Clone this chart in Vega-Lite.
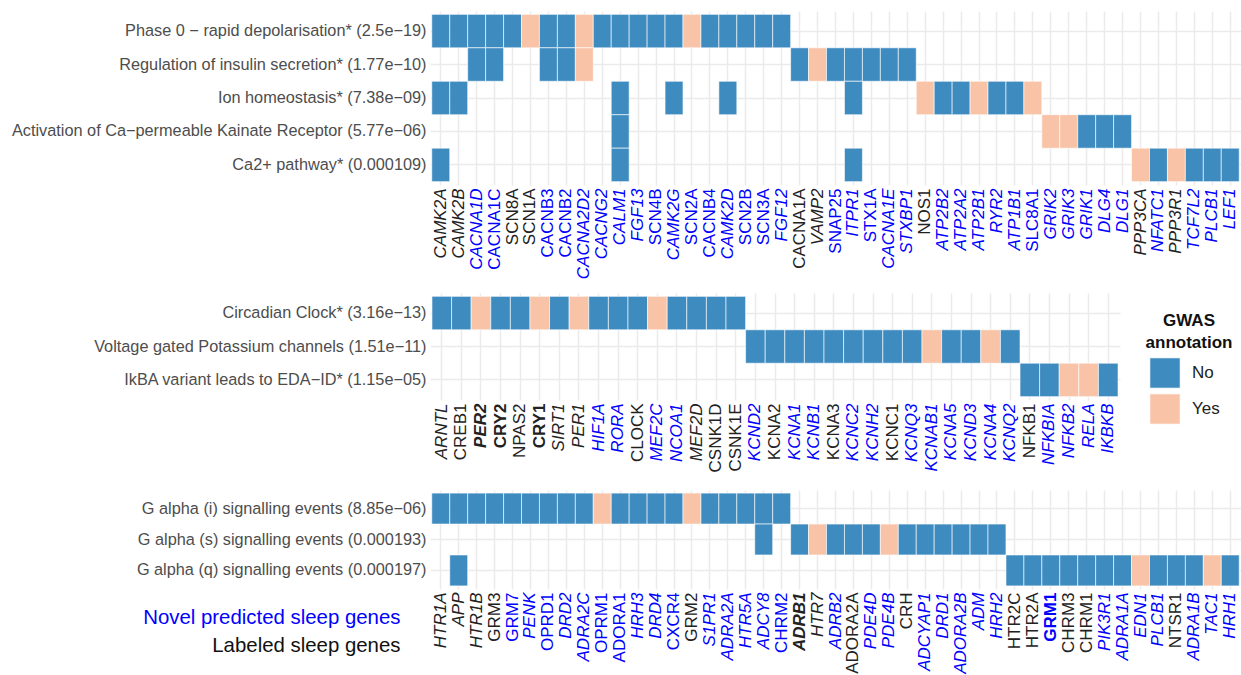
{
  "$schema": "https://vega.github.io/schema/vega-lite/v6.json",
  "padding": {"top": 11, "left": 0, "right": 0, "bottom": 0},
  "background": "white",
  "spacing": 0,
  "config": {
    "view": {"stroke": null},
    "font": "Liberation Sans",
    "axis": {"ticks": false, "domain": false, "grid": true, "gridColor": "#EBEBEB", "gridWidth": 1.5, "bandPosition": 0.5, "labelOverlap": false, "labelLimit": 0, "zindex": 0}
  },
  "datasets": {
    "p1": [
      {"pathway": "Phase 0 − rapid depolarisation* (2.5e−19)", "gene": "CAMK2A", "gwas": "No"},
      {"pathway": "Phase 0 − rapid depolarisation* (2.5e−19)", "gene": "CAMK2B", "gwas": "No"},
      {"pathway": "Phase 0 − rapid depolarisation* (2.5e−19)", "gene": "CACNA1D", "gwas": "No"},
      {"pathway": "Phase 0 − rapid depolarisation* (2.5e−19)", "gene": "CACNA1C", "gwas": "No"},
      {"pathway": "Phase 0 − rapid depolarisation* (2.5e−19)", "gene": "SCN8A", "gwas": "No"},
      {"pathway": "Phase 0 − rapid depolarisation* (2.5e−19)", "gene": "SCN1A", "gwas": "Yes"},
      {"pathway": "Phase 0 − rapid depolarisation* (2.5e−19)", "gene": "CACNB3", "gwas": "No"},
      {"pathway": "Phase 0 − rapid depolarisation* (2.5e−19)", "gene": "CACNB2", "gwas": "No"},
      {"pathway": "Phase 0 − rapid depolarisation* (2.5e−19)", "gene": "CACNA2D2", "gwas": "Yes"},
      {"pathway": "Phase 0 − rapid depolarisation* (2.5e−19)", "gene": "CACNG2", "gwas": "No"},
      {"pathway": "Phase 0 − rapid depolarisation* (2.5e−19)", "gene": "CALM1", "gwas": "No"},
      {"pathway": "Phase 0 − rapid depolarisation* (2.5e−19)", "gene": "FGF13", "gwas": "No"},
      {"pathway": "Phase 0 − rapid depolarisation* (2.5e−19)", "gene": "SCN4B", "gwas": "No"},
      {"pathway": "Phase 0 − rapid depolarisation* (2.5e−19)", "gene": "CAMK2G", "gwas": "No"},
      {"pathway": "Phase 0 − rapid depolarisation* (2.5e−19)", "gene": "SCN2A", "gwas": "Yes"},
      {"pathway": "Phase 0 − rapid depolarisation* (2.5e−19)", "gene": "CACNB4", "gwas": "No"},
      {"pathway": "Phase 0 − rapid depolarisation* (2.5e−19)", "gene": "CAMK2D", "gwas": "No"},
      {"pathway": "Phase 0 − rapid depolarisation* (2.5e−19)", "gene": "SCN2B", "gwas": "No"},
      {"pathway": "Phase 0 − rapid depolarisation* (2.5e−19)", "gene": "SCN3A", "gwas": "No"},
      {"pathway": "Phase 0 − rapid depolarisation* (2.5e−19)", "gene": "FGF12", "gwas": "No"},
      {"pathway": "Regulation of insulin secretion* (1.77e−10)", "gene": "CACNA1D", "gwas": "No"},
      {"pathway": "Regulation of insulin secretion* (1.77e−10)", "gene": "CACNA1C", "gwas": "No"},
      {"pathway": "Regulation of insulin secretion* (1.77e−10)", "gene": "CACNB3", "gwas": "No"},
      {"pathway": "Regulation of insulin secretion* (1.77e−10)", "gene": "CACNB2", "gwas": "No"},
      {"pathway": "Regulation of insulin secretion* (1.77e−10)", "gene": "CACNA2D2", "gwas": "Yes"},
      {"pathway": "Regulation of insulin secretion* (1.77e−10)", "gene": "CACNA1A", "gwas": "No"},
      {"pathway": "Regulation of insulin secretion* (1.77e−10)", "gene": "VAMP2", "gwas": "Yes"},
      {"pathway": "Regulation of insulin secretion* (1.77e−10)", "gene": "SNAP25", "gwas": "No"},
      {"pathway": "Regulation of insulin secretion* (1.77e−10)", "gene": "ITPR1", "gwas": "No"},
      {"pathway": "Regulation of insulin secretion* (1.77e−10)", "gene": "STX1A", "gwas": "No"},
      {"pathway": "Regulation of insulin secretion* (1.77e−10)", "gene": "CACNA1E", "gwas": "No"},
      {"pathway": "Regulation of insulin secretion* (1.77e−10)", "gene": "STXBP1", "gwas": "No"},
      {"pathway": "Ion homeostasis* (7.38e−09)", "gene": "CAMK2A", "gwas": "No"},
      {"pathway": "Ion homeostasis* (7.38e−09)", "gene": "CAMK2B", "gwas": "No"},
      {"pathway": "Ion homeostasis* (7.38e−09)", "gene": "CALM1", "gwas": "No"},
      {"pathway": "Ion homeostasis* (7.38e−09)", "gene": "CAMK2G", "gwas": "No"},
      {"pathway": "Ion homeostasis* (7.38e−09)", "gene": "CAMK2D", "gwas": "No"},
      {"pathway": "Ion homeostasis* (7.38e−09)", "gene": "ITPR1", "gwas": "No"},
      {"pathway": "Ion homeostasis* (7.38e−09)", "gene": "NOS1", "gwas": "Yes"},
      {"pathway": "Ion homeostasis* (7.38e−09)", "gene": "ATP2B2", "gwas": "No"},
      {"pathway": "Ion homeostasis* (7.38e−09)", "gene": "ATP2A2", "gwas": "No"},
      {"pathway": "Ion homeostasis* (7.38e−09)", "gene": "ATP2B1", "gwas": "Yes"},
      {"pathway": "Ion homeostasis* (7.38e−09)", "gene": "RYR2", "gwas": "No"},
      {"pathway": "Ion homeostasis* (7.38e−09)", "gene": "ATP1B1", "gwas": "No"},
      {"pathway": "Ion homeostasis* (7.38e−09)", "gene": "SLC8A1", "gwas": "Yes"},
      {"pathway": "Activation of Ca−permeable Kainate Receptor (5.77e−06)", "gene": "CALM1", "gwas": "No"},
      {"pathway": "Activation of Ca−permeable Kainate Receptor (5.77e−06)", "gene": "GRIK2", "gwas": "Yes"},
      {"pathway": "Activation of Ca−permeable Kainate Receptor (5.77e−06)", "gene": "GRIK3", "gwas": "Yes"},
      {"pathway": "Activation of Ca−permeable Kainate Receptor (5.77e−06)", "gene": "GRIK1", "gwas": "No"},
      {"pathway": "Activation of Ca−permeable Kainate Receptor (5.77e−06)", "gene": "DLG4", "gwas": "No"},
      {"pathway": "Activation of Ca−permeable Kainate Receptor (5.77e−06)", "gene": "DLG1", "gwas": "No"},
      {"pathway": "Ca2+ pathway* (0.000109)", "gene": "CAMK2A", "gwas": "No"},
      {"pathway": "Ca2+ pathway* (0.000109)", "gene": "CALM1", "gwas": "No"},
      {"pathway": "Ca2+ pathway* (0.000109)", "gene": "ITPR1", "gwas": "No"},
      {"pathway": "Ca2+ pathway* (0.000109)", "gene": "PPP3CA", "gwas": "Yes"},
      {"pathway": "Ca2+ pathway* (0.000109)", "gene": "NFATC1", "gwas": "No"},
      {"pathway": "Ca2+ pathway* (0.000109)", "gene": "PPP3R1", "gwas": "Yes"},
      {"pathway": "Ca2+ pathway* (0.000109)", "gene": "TCF7L2", "gwas": "No"},
      {"pathway": "Ca2+ pathway* (0.000109)", "gene": "PLCB1", "gwas": "No"},
      {"pathway": "Ca2+ pathway* (0.000109)", "gene": "LEF1", "gwas": "No"}
    ],
    "p2": [
      {"pathway": "Circadian Clock* (3.16e−13)", "gene": "ARNTL", "gwas": "No"},
      {"pathway": "Circadian Clock* (3.16e−13)", "gene": "CREB1", "gwas": "No"},
      {"pathway": "Circadian Clock* (3.16e−13)", "gene": "PER2", "gwas": "Yes"},
      {"pathway": "Circadian Clock* (3.16e−13)", "gene": "CRY2", "gwas": "No"},
      {"pathway": "Circadian Clock* (3.16e−13)", "gene": "NPAS2", "gwas": "No"},
      {"pathway": "Circadian Clock* (3.16e−13)", "gene": "CRY1", "gwas": "Yes"},
      {"pathway": "Circadian Clock* (3.16e−13)", "gene": "SIRT1", "gwas": "No"},
      {"pathway": "Circadian Clock* (3.16e−13)", "gene": "PER1", "gwas": "Yes"},
      {"pathway": "Circadian Clock* (3.16e−13)", "gene": "HIF1A", "gwas": "No"},
      {"pathway": "Circadian Clock* (3.16e−13)", "gene": "RORA", "gwas": "No"},
      {"pathway": "Circadian Clock* (3.16e−13)", "gene": "CLOCK", "gwas": "No"},
      {"pathway": "Circadian Clock* (3.16e−13)", "gene": "MEF2C", "gwas": "Yes"},
      {"pathway": "Circadian Clock* (3.16e−13)", "gene": "NCOA1", "gwas": "No"},
      {"pathway": "Circadian Clock* (3.16e−13)", "gene": "MEF2D", "gwas": "No"},
      {"pathway": "Circadian Clock* (3.16e−13)", "gene": "CSNK1D", "gwas": "No"},
      {"pathway": "Circadian Clock* (3.16e−13)", "gene": "CSNK1E", "gwas": "No"},
      {"pathway": "Voltage gated Potassium channels (1.51e−11)", "gene": "KCND2", "gwas": "No"},
      {"pathway": "Voltage gated Potassium channels (1.51e−11)", "gene": "KCNA2", "gwas": "No"},
      {"pathway": "Voltage gated Potassium channels (1.51e−11)", "gene": "KCNA1", "gwas": "No"},
      {"pathway": "Voltage gated Potassium channels (1.51e−11)", "gene": "KCNB1", "gwas": "No"},
      {"pathway": "Voltage gated Potassium channels (1.51e−11)", "gene": "KCNA3", "gwas": "No"},
      {"pathway": "Voltage gated Potassium channels (1.51e−11)", "gene": "KCNC2", "gwas": "No"},
      {"pathway": "Voltage gated Potassium channels (1.51e−11)", "gene": "KCNH2", "gwas": "No"},
      {"pathway": "Voltage gated Potassium channels (1.51e−11)", "gene": "KCNC1", "gwas": "No"},
      {"pathway": "Voltage gated Potassium channels (1.51e−11)", "gene": "KCNQ3", "gwas": "No"},
      {"pathway": "Voltage gated Potassium channels (1.51e−11)", "gene": "KCNAB1", "gwas": "Yes"},
      {"pathway": "Voltage gated Potassium channels (1.51e−11)", "gene": "KCNA5", "gwas": "No"},
      {"pathway": "Voltage gated Potassium channels (1.51e−11)", "gene": "KCND3", "gwas": "No"},
      {"pathway": "Voltage gated Potassium channels (1.51e−11)", "gene": "KCNA4", "gwas": "Yes"},
      {"pathway": "Voltage gated Potassium channels (1.51e−11)", "gene": "KCNQ2", "gwas": "No"},
      {"pathway": "IkBA variant leads to EDA−ID* (1.15e−05)", "gene": "NFKB1", "gwas": "No"},
      {"pathway": "IkBA variant leads to EDA−ID* (1.15e−05)", "gene": "NFKBIA", "gwas": "No"},
      {"pathway": "IkBA variant leads to EDA−ID* (1.15e−05)", "gene": "NFKB2", "gwas": "Yes"},
      {"pathway": "IkBA variant leads to EDA−ID* (1.15e−05)", "gene": "RELA", "gwas": "Yes"},
      {"pathway": "IkBA variant leads to EDA−ID* (1.15e−05)", "gene": "IKBKB", "gwas": "No"}
    ],
    "p3": [
      {"pathway": "G alpha (i) signalling events (8.85e−06)", "gene": "HTR1A", "gwas": "No"},
      {"pathway": "G alpha (i) signalling events (8.85e−06)", "gene": "APP", "gwas": "No"},
      {"pathway": "G alpha (i) signalling events (8.85e−06)", "gene": "HTR1B", "gwas": "No"},
      {"pathway": "G alpha (i) signalling events (8.85e−06)", "gene": "GRM3", "gwas": "No"},
      {"pathway": "G alpha (i) signalling events (8.85e−06)", "gene": "GRM7", "gwas": "No"},
      {"pathway": "G alpha (i) signalling events (8.85e−06)", "gene": "PENK", "gwas": "No"},
      {"pathway": "G alpha (i) signalling events (8.85e−06)", "gene": "OPRD1", "gwas": "No"},
      {"pathway": "G alpha (i) signalling events (8.85e−06)", "gene": "DRD2", "gwas": "No"},
      {"pathway": "G alpha (i) signalling events (8.85e−06)", "gene": "ADRA2C", "gwas": "No"},
      {"pathway": "G alpha (i) signalling events (8.85e−06)", "gene": "OPRM1", "gwas": "Yes"},
      {"pathway": "G alpha (i) signalling events (8.85e−06)", "gene": "ADORA1", "gwas": "No"},
      {"pathway": "G alpha (i) signalling events (8.85e−06)", "gene": "HRH3", "gwas": "No"},
      {"pathway": "G alpha (i) signalling events (8.85e−06)", "gene": "DRD4", "gwas": "No"},
      {"pathway": "G alpha (i) signalling events (8.85e−06)", "gene": "CXCR4", "gwas": "No"},
      {"pathway": "G alpha (i) signalling events (8.85e−06)", "gene": "GRM2", "gwas": "Yes"},
      {"pathway": "G alpha (i) signalling events (8.85e−06)", "gene": "S1PR1", "gwas": "No"},
      {"pathway": "G alpha (i) signalling events (8.85e−06)", "gene": "ADRA2A", "gwas": "No"},
      {"pathway": "G alpha (i) signalling events (8.85e−06)", "gene": "HTR5A", "gwas": "No"},
      {"pathway": "G alpha (i) signalling events (8.85e−06)", "gene": "ADCY8", "gwas": "No"},
      {"pathway": "G alpha (i) signalling events (8.85e−06)", "gene": "CHRM2", "gwas": "No"},
      {"pathway": "G alpha (s) signalling events (0.000193)", "gene": "ADCY8", "gwas": "No"},
      {"pathway": "G alpha (s) signalling events (0.000193)", "gene": "ADRB1", "gwas": "No"},
      {"pathway": "G alpha (s) signalling events (0.000193)", "gene": "HTR7", "gwas": "Yes"},
      {"pathway": "G alpha (s) signalling events (0.000193)", "gene": "ADRB2", "gwas": "No"},
      {"pathway": "G alpha (s) signalling events (0.000193)", "gene": "ADORA2A", "gwas": "No"},
      {"pathway": "G alpha (s) signalling events (0.000193)", "gene": "PDE4D", "gwas": "No"},
      {"pathway": "G alpha (s) signalling events (0.000193)", "gene": "PDE4B", "gwas": "Yes"},
      {"pathway": "G alpha (s) signalling events (0.000193)", "gene": "CRH", "gwas": "No"},
      {"pathway": "G alpha (s) signalling events (0.000193)", "gene": "ADCYAP1", "gwas": "No"},
      {"pathway": "G alpha (s) signalling events (0.000193)", "gene": "DRD1", "gwas": "No"},
      {"pathway": "G alpha (s) signalling events (0.000193)", "gene": "ADORA2B", "gwas": "No"},
      {"pathway": "G alpha (s) signalling events (0.000193)", "gene": "ADM", "gwas": "No"},
      {"pathway": "G alpha (s) signalling events (0.000193)", "gene": "HRH2", "gwas": "No"},
      {"pathway": "G alpha (q) signalling events (0.000197)", "gene": "APP", "gwas": "No"},
      {"pathway": "G alpha (q) signalling events (0.000197)", "gene": "HTR2C", "gwas": "No"},
      {"pathway": "G alpha (q) signalling events (0.000197)", "gene": "HTR2A", "gwas": "No"},
      {"pathway": "G alpha (q) signalling events (0.000197)", "gene": "GRM1", "gwas": "No"},
      {"pathway": "G alpha (q) signalling events (0.000197)", "gene": "CHRM3", "gwas": "No"},
      {"pathway": "G alpha (q) signalling events (0.000197)", "gene": "CHRM1", "gwas": "No"},
      {"pathway": "G alpha (q) signalling events (0.000197)", "gene": "PIK3R1", "gwas": "No"},
      {"pathway": "G alpha (q) signalling events (0.000197)", "gene": "ADRA1A", "gwas": "No"},
      {"pathway": "G alpha (q) signalling events (0.000197)", "gene": "EDN1", "gwas": "Yes"},
      {"pathway": "G alpha (q) signalling events (0.000197)", "gene": "PLCB1", "gwas": "No"},
      {"pathway": "G alpha (q) signalling events (0.000197)", "gene": "NTSR1", "gwas": "No"},
      {"pathway": "G alpha (q) signalling events (0.000197)", "gene": "ADRA1B", "gwas": "No"},
      {"pathway": "G alpha (q) signalling events (0.000197)", "gene": "TAC1", "gwas": "Yes"},
      {"pathway": "G alpha (q) signalling events (0.000197)", "gene": "HRH1", "gwas": "No"}
    ]
  },
  "resolve": {"scale": {"x": "independent", "y": "independent", "color": "independent"}, "legend": {"color": "independent"}},
  "vconcat": [
    {
      "width": 811, "height": 174,
      "data": {"name": "p1"},
      "mark": {"type": "rect", "stroke": "white", "strokeWidth": 0.6},
      "encoding": {
        "x": {"field": "gene", "type": "nominal", "sort": null, "scale": {"paddingInner": 0, "paddingOuter": 0.1},
          "axis": {"title": null, "labelAngle": -90, "labelFontSize": 17, "labelPadding": 3, "minExtent": 108, "maxExtent": 108,
            "labelColor": {"condition": {"test": "indexof(['CACNA1D','CACNA1C','CACNB3','CACNB2','CACNA2D2','CACNG2','CALM1','FGF13','SCN4B','CAMK2G','SCN2A','CACNB4','CAMK2D','SCN2B','SCN3A','FGF12','SNAP25','ITPR1','STX1A','CACNA1E','STXBP1','ATP2B2','ATP2A2','ATP2B1','RYR2','ATP1B1','SLC8A1','GRIK2','GRIK3','GRIK1','DLG4','DLG1','NFATC1','TCF7L2','PLCB1','LEF1'], datum.value) >= 0", "value": "#0000FF"}, "value": "#222222"},
            "labelFontStyle": {"condition": {"test": "indexof(['CAMK2A','CAMK2B','CACNA1D','CACNA2D2','CACNG2','CALM1','FGF13','CAMK2G','CAMK2D','FGF12','VAMP2','ITPR1','CACNA1E','STXBP1','ATP2B2','ATP2A2','ATP2B1','RYR2','ATP1B1','GRIK2','GRIK3','GRIK1','DLG4','DLG1','PPP3CA','NFATC1','PPP3R1','TCF7L2','PLCB1','LEF1'], datum.value) >= 0", "value": "italic"}, "value": "normal"}
          }},
        "y": {"field": "pathway", "type": "nominal", "sort": null, "scale": {"paddingInner": 0, "paddingOuter": 0.1},
          "axis": {"title": null, "labelFontSize": 16.3, "labelColor": "#4D4D4D", "labelPadding": 4, "minExtent": 430, "maxExtent": 430}},
        "color": {"field": "gwas", "type": "nominal", "scale": {"domain": ["No", "Yes"], "range": ["#3E8BC0", "#F8C3A7"]}, "legend": null}
      }
    },
    {
      "width": 690, "height": 107,
      "data": {"name": "p2"},
      "mark": {"type": "rect", "stroke": "white", "strokeWidth": 0.6},
      "encoding": {
        "x": {"field": "gene", "type": "nominal", "sort": null, "scale": {"paddingInner": 0, "paddingOuter": 0.1},
          "axis": {"title": null, "labelAngle": -90, "labelFontSize": 17, "labelPadding": 3, "minExtent": 90, "maxExtent": 90,
            "labelColor": {"condition": {"test": "indexof(['HIF1A','RORA','MEF2C','NCOA1','KCND2','KCNA1','KCNB1','KCNC2','KCNH2','KCNQ3','KCNAB1','KCNA5','KCND3','KCNA4','KCNQ2','NFKBIA','NFKB2','RELA','IKBKB'], datum.value) >= 0", "value": "#0000FF"}, "value": "#222222"},
            "labelFontStyle": {"condition": {"test": "indexof(['ARNTL','PER2','SIRT1','PER1','HIF1A','RORA','MEF2C','NCOA1','MEF2D','KCND2','KCNA1','KCNB1','KCNC2','KCNH2','KCNQ3','KCNAB1','KCNA5','KCND3','KCNA4','KCNQ2','NFKBIA','NFKB2','RELA','IKBKB'], datum.value) >= 0", "value": "italic"}, "value": "normal"},
            "labelFontWeight": {"condition": {"test": "indexof(['PER2','CRY2','CRY1'], datum.value) >= 0", "value": "bold"}, "value": "normal"}
          }},
        "y": {"field": "pathway", "type": "nominal", "sort": null, "scale": {"paddingInner": 0, "paddingOuter": 0.1},
          "axis": {"title": null, "labelFontSize": 16.3, "labelColor": "#4D4D4D", "labelPadding": 4, "minExtent": 430, "maxExtent": 430}},
        "color": {"field": "gwas", "type": "nominal", "scale": {"domain": ["No", "Yes"], "range": ["#3E8BC0", "#F8C3A7"]},
          "legend": {"title": ["GWAS", "annotation"], "orient": "none", "legendX": 716, "legendY": 20, "padding": 0,
            "titleFontSize": 17, "titleFontWeight": "bold", "titleColor": "#111111", "titleAnchor": "middle", "titleAlign": "center", "titleLineHeight": 22, "titlePadding": 5,
            "symbolType": "square", "symbolSize": 930, "symbolStrokeColor": "white", "symbolStrokeWidth": 1, "symbolOpacity": 1, "symbolOffset": -9,
            "labelFontSize": 17, "labelColor": "#222222", "labelOffset": 11, "rowPadding": 0}}
      }
    },
    {
      "width": 811, "height": 99,
      "data": {"name": "p3"},
      "mark": {"type": "rect", "stroke": "white", "strokeWidth": 0.6},
      "encoding": {
        "x": {"field": "gene", "type": "nominal", "sort": null, "scale": {"paddingInner": 0, "paddingOuter": 0.1},
          "axis": {"title": "Novel predicted sleep genes", "titleColor": "#0000FF", "titleFontSize": 20.4, "titleFontWeight": "normal", "titleAngle": 0, "titleAlign": "right", "titleBaseline": "middle", "titleX": -30, "titleY": 28,
            "labelAngle": -90, "labelFontSize": 17, "labelPadding": 3, "minExtent": 86, "maxExtent": 86,
            "labelColor": {"condition": {"test": "indexof(['GRM7','PENK','OPRD1','DRD2','ADRA2C','OPRM1','ADORA1','HRH3','DRD4','CXCR4','S1PR1','ADRA2A','HTR5A','ADCY8','CHRM2','ADRB2','PDE4D','PDE4B','ADCYAP1','DRD1','ADORA2B','ADM','HRH2','GRM1','PIK3R1','ADRA1A','EDN1','PLCB1','ADRA1B','TAC1','HRH1'], datum.value) >= 0", "value": "#0000FF"}, "value": "#222222"},
            "labelFontStyle": {"condition": {"test": "indexof(['HTR1A','APP','HTR1B','PENK','DRD2','ADRA2C','HRH3','DRD4','S1PR1','ADRA2A','HTR5A','ADCY8','ADRB1','HTR7','ADRB2','PDE4D','PDE4B','ADCYAP1','DRD1','ADORA2B','ADM','HRH2','PIK3R1','ADRA1A','EDN1','PLCB1','ADRA1B','TAC1','HRH1'], datum.value) >= 0", "value": "italic"}, "value": "normal"},
            "labelFontWeight": {"condition": {"test": "indexof(['ADRB1','GRM1'], datum.value) >= 0", "value": "bold"}, "value": "normal"}
          }},
        "y": {"field": "pathway", "type": "nominal", "sort": null, "scale": {"paddingInner": 0, "paddingOuter": 0.1},
          "axis": {"title": "Labeled sleep genes", "titleColor": "#111111", "titleFontSize": 20.4, "titleFontWeight": "normal", "titleAngle": 0, "titleAlign": "right", "titleBaseline": "middle", "titleX": -30, "titleY": 155,
            "labelFontSize": 16.3, "labelColor": "#4D4D4D", "labelPadding": 4, "minExtent": 430, "maxExtent": 430}},
        "color": {"field": "gwas", "type": "nominal", "scale": {"domain": ["No", "Yes"], "range": ["#3E8BC0", "#F8C3A7"]}, "legend": null}
      }
    }
  ]
}
